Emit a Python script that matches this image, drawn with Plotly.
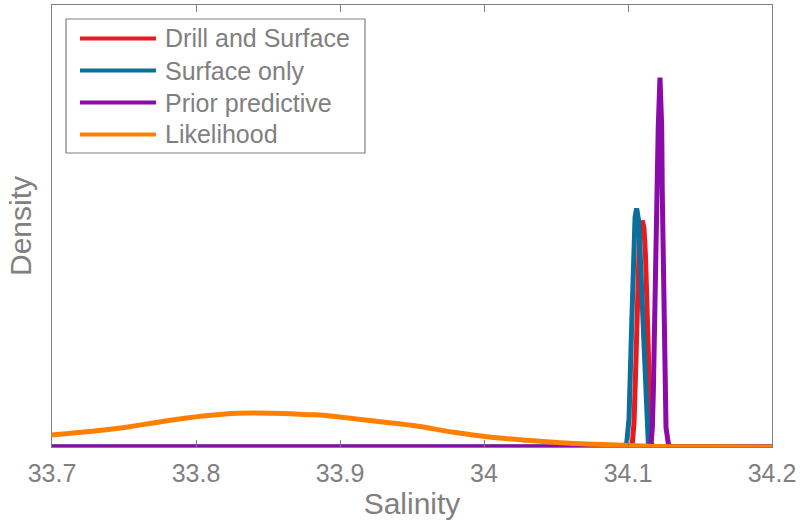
import plotly.graph_objects as go

# Salinity grid points and density values for each posterior / prior curve
drill_x = [33.70, 34.1014, 34.1030, 34.1042, 34.1056, 34.1067, 34.1079, 34.1099,
           34.1111, 34.1122, 34.1130, 34.1139, 34.1153, 34.1160, 34.1181, 34.20]
drill_y = [0, 0, 2, 14, 51, 89, 117, 128, 124, 107, 87, 49, 11, 2, 0, 0]

surface_x = [33.70, 34.0958, 34.0991, 34.1007, 34.1026, 34.1037, 34.1049, 34.1060,
             34.1076, 34.1095, 34.1113, 34.1132, 34.1141, 34.1160, 34.20]
surface_y = [0, 0, 2, 16, 70, 107, 130, 135, 127, 89, 51, 14, 2, 0, 0]

prior_x = [33.70, 34.1146, 34.1160, 34.1169, 34.1176, 34.1183, 34.1194, 34.1203,
           34.1210, 34.1222, 34.1234, 34.1238, 34.1245, 34.1250, 34.1257, 34.1264,
           34.1280, 34.1292, 34.20]
prior_y = [0, 0, 2, 11, 31, 68, 106, 144, 181, 209, 181, 144, 106, 68, 31, 11,
           2, 0, 0]

likelihood_x = [33.700, 33.731, 33.754, 33.780, 33.805, 33.829, 33.853, 33.879,
                33.886, 33.928, 33.953, 33.979, 34.002, 34.027, 34.053, 34.078,
                34.097, 34.122, 34.150, 34.200]
likelihood_y = [6.8, 9.2, 11.5, 14.9, 17.5, 19.1, 19.1, 18.3, 18.1, 14.3, 11.9,
                8.3, 5.8, 4.0, 2.4, 1.5, 1.0, 0.3, 0.1, 0.0]

series_names = ["Drill and Surface", "Surface only", "Prior predictive", "Likelihood"]
series_colors = ["#e8191f", "#0b6e9b", "#8a0aaa", "#ff8000"]

x_ticks = [33.7, 33.8, 33.9, 34.0, 34.1, 34.2]
x_tick_labels = ["33.7", "33.8", "33.9", "34", "34.1", "34.2"]

GREY = "#808080"
FONT = "Liberation Sans, Arial, sans-serif"
W, H = 804, 525
ML, MR, MT, MB = 52, 32, 5, 78

fig = go.Figure()
curves = [(drill_x, drill_y, "linear"), (surface_x, surface_y, "linear"),
          (prior_x, prior_y, "linear"), (likelihood_x, likelihood_y, "spline")]
for (xs, ys, shape), name, color in zip(curves, series_names, series_colors):
    fig.add_trace(go.Scatter(x=xs, y=ys, mode="lines", name=name,
                             line=dict(color=color, width=5, shape=shape),
                             showlegend=False))

# Legend box drawn in paper coordinates from pixel positions
pw, ph = W - ML - MR, H - MT - MB
def px(x):
    return (x - ML) / pw
def py(y):
    return (H - MB - y) / ph

shapes = [dict(type="rect", xref="paper", yref="paper",
               x0=px(66), x1=px(365), y0=py(153), y1=py(19),
               line=dict(color=GREY, width=1.2), fillcolor="white", layer="above")]
annotations = []
row_y = [38.5, 70.5, 102.5, 134.5]
for ry, name, color in zip(row_y, series_names, series_colors):
    shapes.append(dict(type="line", xref="paper", yref="paper",
                       x0=px(80), x1=px(156), y0=py(ry), y1=py(ry),
                       line=dict(color=color, width=4), layer="above"))
    annotations.append(dict(xref="paper", yref="paper", x=px(163), y=py(ry),
                            text=name, showarrow=False, xanchor="left",
                            yanchor="middle",
                            font=dict(family=FONT, size=25, color=GREY)))

fig.update_layout(
    width=W, height=H,
    margin=dict(l=ML, r=MR, t=MT, b=MB),
    paper_bgcolor="white", plot_bgcolor="white",
    font=dict(family=FONT, color=GREY),
    shapes=shapes, annotations=annotations,
    showlegend=False,
)
fig.update_xaxes(
    range=[33.7, 34.2], tickmode="array", tickvals=x_ticks, ticktext=x_tick_labels,
    ticks="inside", ticklen=7, tickwidth=1.2, tickcolor=GREY,
    showline=True, linecolor=GREY, linewidth=1.3, mirror="ticks",
    showgrid=False, zeroline=False, ticklabelstandoff=4,
    tickfont=dict(family=FONT, size=25, color=GREY),
    title=dict(text="Salinity", font=dict(family=FONT, size=30, color=GREY), standoff=4),
)
fig.update_yaxes(
    range=[0, 250], showticklabels=False, ticks="",
    showline=True, linecolor=GREY, linewidth=1.3, mirror=True,
    showgrid=False, zeroline=False,
    title=dict(text="Density", font=dict(family=FONT, size=30, color=GREY), standoff=10),
)

fig.write_html("out.html")
